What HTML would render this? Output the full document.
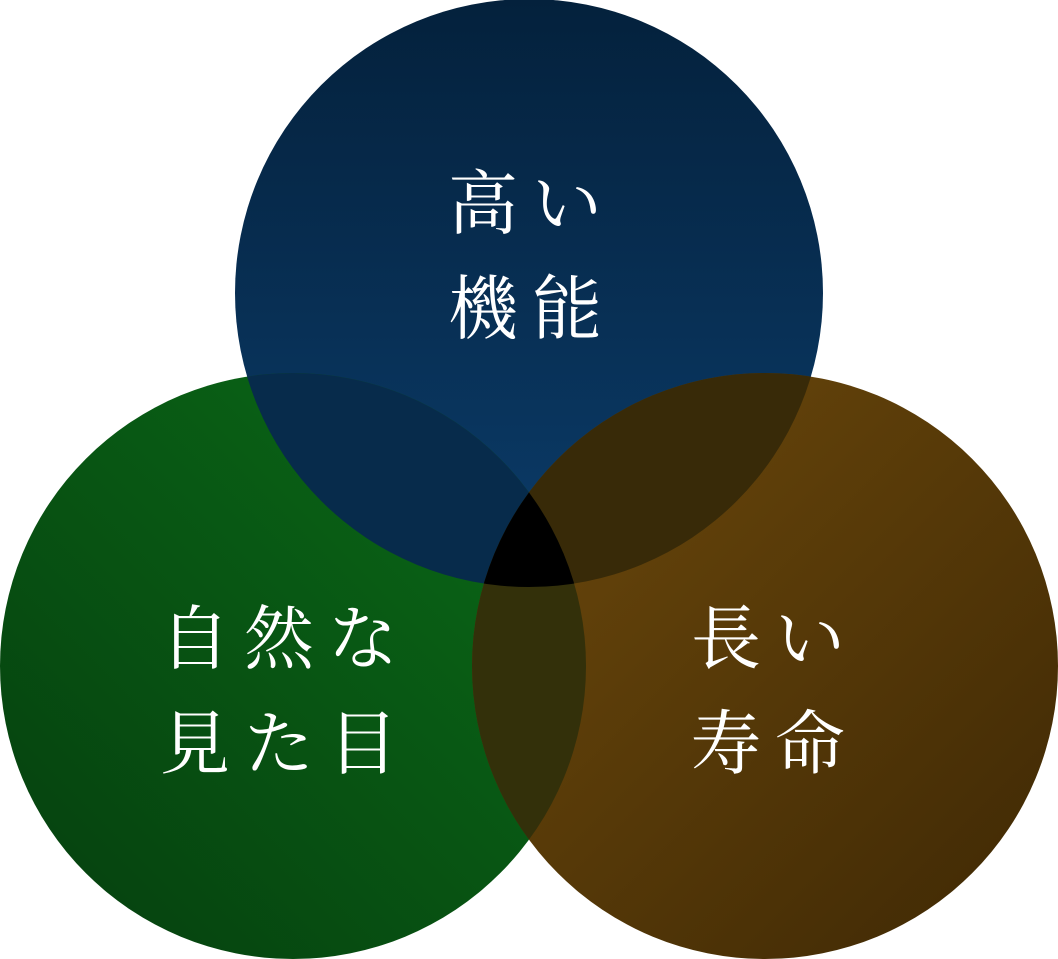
<!DOCTYPE html>
<html><head><meta charset="utf-8"><style>
html,body{margin:0;padding:0;background:#fff;}
svg{display:block}
text{font-family:"Liberation Serif","Noto Serif CJK SC","Noto Sans CJK JP",serif;fill:#fff;font-size:70px;text-anchor:middle;letter-spacing:14px}
</style></head><body>
<svg width="1058" height="959" viewBox="0 0 1058 959" xmlns="http://www.w3.org/2000/svg">
<defs>
<linearGradient id="gt" x1="0" y1="0" x2="0" y2="1"><stop offset="0" stop-color="#04213c"/><stop offset="1" stop-color="#0b3c6a"/></linearGradient>
<linearGradient id="gl" x1="1" y1="0" x2="0" y2="1"><stop offset="0" stop-color="#0b6c18"/><stop offset="1" stop-color="#053e0e"/></linearGradient>
<linearGradient id="gr" x1="0" y1="0" x2="1" y2="1"><stop offset="0" stop-color="#6e4a0c"/><stop offset="1" stop-color="#3e2804"/></linearGradient>
<clipPath id="ct"><circle cx="529" cy="293" r="294"/></clipPath>
<clipPath id="cl"><circle cx="293" cy="666" r="293"/></clipPath>
<clipPath id="cr"><circle cx="765" cy="666" r="293"/></clipPath>
</defs>
<circle cx="529" cy="293" r="294" fill="url(#gt)"/>
<circle cx="293" cy="666" r="293" fill="url(#gl)"/>
<circle cx="765" cy="666" r="293" fill="url(#gr)"/>
<g clip-path="url(#ct)"><circle cx="293" cy="666" r="293" fill="#072b4b"/><circle cx="765" cy="666" r="293" fill="#382a08"/></g>
<g clip-path="url(#cl)"><circle cx="765" cy="666" r="293" fill="#33300a"/></g>
<g clip-path="url(#ct)"><g clip-path="url(#cl)"><circle cx="765" cy="666" r="293" fill="#000"/></g></g>
<text x="532" y="228">高い</text>
<text x="532" y="333">機能</text>
<text x="286" y="663">自然な</text>
<text x="286" y="768">見た目</text>
<text x="775" y="663">長い</text>
<text x="775" y="768">寿命</text>
</svg>
</body></html>
